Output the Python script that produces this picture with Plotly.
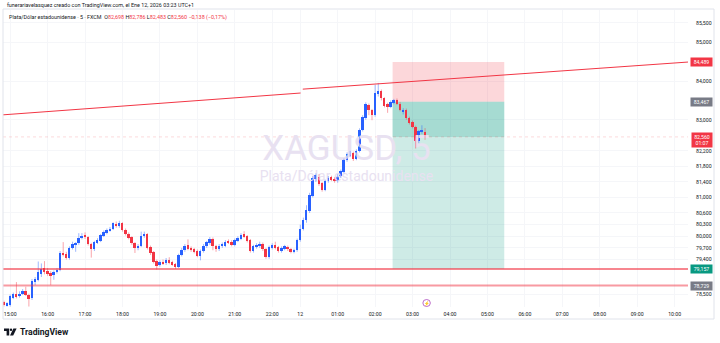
import plotly.graph_objects as go

# ---------------- data ----------------
bar_index = list(range(-2, 134))   # 5-minute bars, 0 = 15:00 (Fri), 93 = 00:00 (Mon 12)

open_p = [78.30, 78.22, 78.24, 78.42, 78.52, 78.45, 78.52, 78.58, 78.49, 78.40,
          78.82, 78.88, 79.04, 79.18, 79.10, 79.05, 79.00, 79.07, 79.13, 79.58,
          79.54, 79.44, 79.70, 79.78, 79.82, 79.95, 80.03, 79.97, 79.80, 79.66,
          79.83, 79.88, 80.02, 80.08, 80.16, 80.20, 80.32, 80.26, 80.34, 80.16,
          80.06, 79.97, 79.82, 79.70, 79.76, 80.00, 80.06, 79.72, 79.60, 79.36,
          79.26, 79.34, 79.30, 79.40, 79.33, 79.28, 79.22, 79.52, 79.64, 79.78,
          79.70, 79.66, 79.62, 79.50, 79.62, 79.74, 79.82, 79.94, 79.74, 79.66,
          79.74, 79.76, 79.88, 79.86, 79.78, 79.88, 79.94, 80.05, 80.00, 79.90,
          79.62, 79.72, 79.74, 79.80, 79.66, 79.46, 79.70, 79.78, 79.72, 79.62,
          79.68, 79.72, 79.66, 79.60, 79.64, 79.90, 80.20, 80.42, 80.66, 81.04,
          81.48, 81.52, 81.36, 81.20, 81.42, 81.52, 81.48, 81.42, 81.55, 81.66,
          81.96, 82.08, 82.14, 82.00, 82.20, 82.74, 83.05, 83.38, 83.25, 83.12,
          83.66, 83.73, 83.55, 83.40, 83.34, 83.44, 83.50, 83.42, 83.22, 83.26,
          83.05, 82.94, 82.82, 82.45, 82.68, 82.698]
high_p = [78.34, 78.30, 78.50, 78.55, 78.82, 78.58, 78.64, 78.70, 78.52, 78.90,
          78.95, 79.35, 79.30, 79.36, 79.18, 79.10, 79.12, 79.18, 79.62, 79.85,
          79.60, 79.74, 79.86, 79.85, 80.08, 80.08, 80.10, 80.00, 79.83, 79.88,
          79.95, 80.06, 80.15, 80.20, 80.24, 80.36, 80.38, 80.40, 80.36, 80.20,
          80.10, 80.00, 79.85, 79.80, 80.12, 80.12, 80.08, 79.76, 79.62, 79.40,
          79.38, 79.40, 79.44, 79.46, 79.37, 79.31, 79.55, 79.70, 79.80, 79.92,
          79.74, 79.70, 79.66, 79.66, 79.80, 79.88, 79.98, 79.97, 79.78, 79.80,
          79.84, 79.90, 79.92, 79.90, 79.94, 80.00, 80.08, 80.13, 80.03, 79.93,
          79.78, 79.82, 79.86, 79.84, 79.70, 79.76, 79.82, 79.86, 79.75, 79.74,
          79.78, 79.76, 79.70, 79.68, 79.94, 80.30, 80.48, 80.80, 81.12, 81.55,
          81.62, 81.60, 81.40, 81.46, 81.55, 81.56, 81.52, 81.60, 81.72, 82.00,
          82.16, 82.20, 82.18, 82.24, 82.78, 83.12, 83.45, 83.42, 83.28, 83.90,
          83.95, 83.78, 83.58, 83.44, 83.50, 83.54, 83.55, 83.46, 83.30, 83.29,
          83.08, 82.98, 82.85, 82.74, 82.86, 82.786]
low_p = [78.19, 78.19, 78.19, 78.38, 78.40, 78.42, 78.49, 78.46, 78.19, 78.36,
         78.74, 78.84, 78.95, 79.02, 78.98, 78.74, 78.88, 79.04, 79.10, 79.48,
         79.40, 79.40, 79.66, 79.60, 79.78, 79.92, 79.93, 79.76, 79.45, 79.62,
         79.80, 79.85, 79.98, 80.05, 80.12, 80.16, 80.22, 80.22, 80.12, 80.02,
         79.92, 79.78, 79.57, 79.64, 79.72, 79.96, 79.66, 79.52, 79.30, 79.14,
         79.22, 79.26, 79.26, 79.28, 79.24, 79.16, 79.18, 79.48, 79.60, 79.64,
         79.60, 79.56, 79.46, 79.38, 79.58, 79.70, 79.78, 79.64, 79.60, 79.62,
         79.70, 79.72, 79.80, 79.74, 79.74, 79.85, 79.90, 79.96, 79.84, 79.58,
         79.58, 79.68, 79.70, 79.62, 79.42, 79.42, 79.66, 79.66, 79.58, 79.58,
         79.64, 79.62, 79.56, 79.56, 79.60, 79.86, 80.15, 80.35, 80.60, 81.00,
         81.40, 81.30, 81.15, 81.16, 81.38, 81.42, 81.38, 81.38, 81.50, 81.62,
         81.92, 82.04, 81.94, 81.96, 82.16, 82.70, 83.00, 83.12, 82.99, 83.08,
         83.60, 83.50, 83.32, 83.18, 83.30, 83.40, 83.38, 83.22, 83.14, 83.00,
         82.88, 82.78, 82.26, 82.40, 82.64, 82.483]
close_p = [78.22, 78.27, 78.45, 78.52, 78.44, 78.52, 78.58, 78.49, 78.38, 78.85,
           78.90, 79.08, 79.15, 79.08, 79.02, 79.00, 79.08, 79.14, 79.58, 79.52,
           79.44, 79.70, 79.80, 79.82, 79.96, 80.02, 79.97, 79.80, 79.66, 79.85,
           79.90, 80.03, 80.10, 80.16, 80.20, 80.33, 80.26, 80.34, 80.16, 80.06,
           79.96, 79.82, 79.70, 79.76, 80.02, 80.07, 79.70, 79.56, 79.34, 79.24,
           79.34, 79.30, 79.40, 79.32, 79.28, 79.22, 79.52, 79.65, 79.75, 79.68,
           79.64, 79.60, 79.50, 79.62, 79.76, 79.84, 79.94, 79.74, 79.66, 79.76,
           79.80, 79.86, 79.84, 79.78, 79.90, 79.96, 80.04, 80.00, 79.88, 79.62,
           79.74, 79.78, 79.80, 79.66, 79.46, 79.72, 79.78, 79.70, 79.62, 79.70,
           79.74, 79.66, 79.60, 79.64, 79.90, 80.20, 80.42, 80.68, 81.06, 81.50,
           81.58, 81.34, 81.20, 81.42, 81.50, 81.46, 81.42, 81.56, 81.68, 81.96,
           82.12, 82.14, 82.00, 82.20, 82.74, 83.07, 83.40, 83.25, 83.12, 83.68,
           83.73, 83.55, 83.36, 83.32, 83.46, 83.50, 83.42, 83.25, 83.26, 83.05,
           82.92, 82.82, 82.45, 82.70, 82.74, 82.560]

time_tick_bars = [0, 12, 24, 36, 48, 60, 72, 84, 93, 105, 117, 129, 141, 153, 165, 177, 189, 201, 213]
time_tick_labels = ["15:00", "16:00", "17:00", "18:00", "19:00", "20:00", "21:00", "22:00", "12",
                    "01:00", "02:00", "03:00", "04:00", "05:00", "06:00", "07:00", "08:00",
                    "09:00", "10:00"]
price_ticks = [85.5, 85.0, 84.0, 83.0, 82.2, 81.8, 81.4, 81.0, 80.6, 80.3, 80.0, 79.7, 79.4, 78.5]
price_tick_labels = ["85,500", "85,000", "84,000", "83,000", "82,200", "81,800", "81,400",
                     "81,000", "80,600", "80,300", "80,000", "79,700", "79,400", "78,500"]

# drawings (time in bar index, price)
trend_a_bars = [-3.0, 93.1]
trend_a_prices = [83.124, 83.69]
trend_b_bars = [93.8, 217.4]
trend_b_prices = [83.79, 84.489]
support_levels = [79.157, 78.729]
position_bars = [122.6, 158.4]
position_entry = 83.467
position_stop = 84.489
position_target = 79.157
last_price = 82.560
event_bar = 133.5

# ---------------- figure ----------------
W, H = 720, 343
def px(x):
    return x / W
def py(y):
    return 1 - y / H

UP = "#2962ff"
DN = "#f23645"
X_RANGE = [-2.3, 217.3]
Y_RANGE = [78.178, 85.829]

fig = go.Figure()

# watermark (drawn first, beneath candles)
fig.add_trace(go.Scatter(x=[107.8], y=[82.196], mode="text", text=["XAGUSD, 5"],
                         textfont=dict(family="Roboto", size=35, color="#e8e1f1"),
                         hoverinfo="skip", showlegend=False))
fig.add_trace(go.Scatter(x=[107.8], y=[81.527], mode="text", text=["Plata/Dólar estadounidense"],
                         textfont=dict(family="Roboto", size=14, color="#e8e1f1"),
                         hoverinfo="skip", showlegend=False))

# wicks
ux, uy, dx, dy = [], [], [], []
for i, o, h, l, c in zip(bar_index, open_p, high_p, low_p, close_p):
    if c >= o:
        ux += [i, i, None]; uy += [l, h, None]
    else:
        dx += [i, i, None]; dy += [l, h, None]
fig.add_trace(go.Scatter(x=ux, y=uy, mode="lines", line=dict(color="rgba(41,98,255,0.45)", width=1),
                         hoverinfo="skip", showlegend=False))
fig.add_trace(go.Scatter(x=dx, y=dy, mode="lines", line=dict(color="rgba(242,54,69,0.45)", width=1),
                         hoverinfo="skip", showlegend=False))

# bodies
bases = [min(o, c) for o, c in zip(open_p, close_p)]
heights = [max(abs(c - o), 0.012) for o, c in zip(open_p, close_p)]
colors = [UP if c >= o else DN for o, c in zip(open_p, close_p)]
fig.add_trace(go.Bar(x=bar_index, y=heights, base=bases, width=0.62,
                     marker=dict(color=colors, line=dict(width=0)),
                     hoverinfo="skip", showlegend=False))

shapes = []
# position tool
shapes.append(dict(type="rect", xref="x", yref="y", x0=position_bars[0], x1=position_bars[1],
                   y0=position_entry, y1=position_stop, fillcolor="rgba(242,54,69,0.2)",
                   line=dict(width=0), layer="between"))
shapes.append(dict(type="rect", xref="x", yref="y", x0=position_bars[0], x1=position_bars[1],
                   y0=position_target, y1=position_entry, fillcolor="rgba(8,153,129,0.2)",
                   line=dict(width=0), layer="between"))
shapes.append(dict(type="rect", xref="x", yref="y", x0=position_bars[0], x1=position_bars[1],
                   y0=last_price, y1=position_entry, fillcolor="rgba(8,153,129,0.2)",
                   line=dict(width=0), layer="between"))
# last price line
shapes.append(dict(type="line", xref="x", yref="y", x0=X_RANGE[0], x1=X_RANGE[1], y0=last_price,
                   y1=last_price, line=dict(color="rgba(242,54,69,0.18)", width=1, dash="dot"), layer="between"))
# horizontal supports
shapes.append(dict(type="line", xref="x", yref="y", x0=X_RANGE[0], x1=X_RANGE[1], y0=support_levels[0],
                   y1=support_levels[0], line=dict(color="rgba(242,54,69,0.8)", width=1.3)))
shapes.append(dict(type="line", xref="x", yref="y", x0=X_RANGE[0], x1=X_RANGE[1], y0=support_levels[1],
                   y1=support_levels[1], line=dict(color="rgba(242,54,69,0.5)", width=2)))
# trendline
shapes.append(dict(type="line", xref="x", yref="y", x0=trend_a_bars[0], x1=trend_a_bars[1],
                   y0=trend_a_prices[0], y1=trend_a_prices[1], line=dict(color="#f23645", width=1)))
shapes.append(dict(type="line", xref="x", yref="y", x0=trend_b_bars[0], x1=trend_b_bars[1],
                   y0=trend_b_prices[0], y1=trend_b_prices[1], line=dict(color="#f23645", width=1)))
# chart frame
shapes.append(dict(type="rect", xref="paper", yref="paper", x0=px(3), x1=px(714), y0=py(319), y1=py(9),
                   line=dict(color="#e0e3eb", width=1), fillcolor="rgba(0,0,0,0)"))
# event marker
shapes.append(dict(type="circle", xref="x", yref="paper", x0=event_bar - 1.2, x1=event_bar + 1.2,
                   y0=py(306.5), y1=py(299.5), line=dict(color="#ab47bc", width=0.8), fillcolor="white"))
# TradingView logo mark
logo = (f"M {px(4)},{py(328.5)} L {px(9.2)},{py(328.5)} L {px(9.2)},{py(335.5)} L {px(6.6)},{py(335.5)} "
        f"L {px(6.6)},{py(331)} L {px(4)},{py(331)} Z")
shapes.append(dict(type="path", xref="paper", yref="paper", path=logo, fillcolor="#131722", line=dict(width=0)))
shapes.append(dict(type="circle", xref="paper", yref="paper", x0=px(9.8), x1=px(12.2), y0=py(331), y1=py(328.6),
                   fillcolor="#131722", line=dict(width=0)))
logo2 = (f"M {px(13.4)},{py(328.5)} L {px(16.6)},{py(328.5)} L {px(13.2)},{py(335.5)} L {px(10.0)},{py(335.5)} Z")
shapes.append(dict(type="path", xref="paper", yref="paper", path=logo2, fillcolor="#131722", line=dict(width=0)))

annotations = []
# header
annotations.append(dict(xref="paper", yref="paper", x=px(5), y=py(5), xanchor="left", yanchor="middle",
                        text="funerariavelasquez creado con TradingView.com, el Ene 12, 2026 03:23 UTC+1",
                        showarrow=False, font=dict(family="Roboto", size=5.4, color="#131722")))
red = "<span style='color:#f23645'>"
hdr = ("Plata/Dólar estadounidense · 5 · FXCM&nbsp;&nbsp;"
       f"O{red}82,698</span> H{red}82,786</span> L{red}82,483</span> C{red}82,560</span> "
       f"{red}−0,138 (−0,17%)</span>")
annotations.append(dict(xref="paper", yref="paper", x=px(7), y=py(17), xanchor="left", yanchor="middle",
                        text=hdr, showarrow=False, font=dict(family="Roboto", size=5.4, color="#131722")))
# price tags
def tag(price, text, color, yshift=0, yanchor="middle", pad=1):
    annotations.append(dict(xref="paper", yref="y", x=px(701.5), y=price, xanchor="center", yanchor=yanchor,
                            yshift=yshift, text=text, showarrow=False, bgcolor=color, borderpad=pad, width=19,
                            font=dict(family="Roboto", size=5.2, color="white")))
tag(position_stop, "84,489", "#f23645")
tag(position_entry, "83,467", "#787b86")
tag(last_price, "82,560<br>01:07", "#f23645", yshift=5, yanchor="top", pad=0.5)
tag(support_levels[0], "79,157", "#089981")
tag(support_levels[1], "78,729", "#787b86")
# event glyph
annotations.append(dict(xref="x", yref="paper", x=event_bar, y=py(303), text="⚡", showarrow=False,
                        font=dict(size=4.5, color="#ab47bc"), xanchor="center", yanchor="middle"))
# TradingView wordmark
annotations.append(dict(xref="paper", yref="paper", x=px(18), y=py(332), xanchor="left", yanchor="middle",
                        text="<b>TradingView</b>", showarrow=False,
                        font=dict(family="Roboto", size=8.6, color="#131722")))

fig.update_layout(
    width=W, height=H, margin=dict(l=0, r=0, t=0, b=0),
    paper_bgcolor="white", plot_bgcolor="white", showlegend=False,
    shapes=shapes, annotations=annotations, bargap=0,
    xaxis=dict(domain=[px(3), px(688)], range=X_RANGE, tickvals=time_tick_bars, ticktext=time_tick_labels,
               tickfont=dict(family="Roboto", size=5.2, color="#131722"), showgrid=True, gridcolor="#f5f6f9",
               zeroline=False, showline=False, ticks="", ticklabelstandoff=3),
    yaxis=dict(domain=[1 - 307 / H, 1 - 10 / H], range=Y_RANGE, side="right", tickvals=price_ticks,
               ticktext=price_tick_labels, tickfont=dict(family="Roboto", size=5.2, color="#131722"),
               showgrid=True, gridcolor="#f5f6f9", zeroline=False, showline=False, ticks="",
               ticklabelstandoff=7),
)

fig.write_html("out.html")
